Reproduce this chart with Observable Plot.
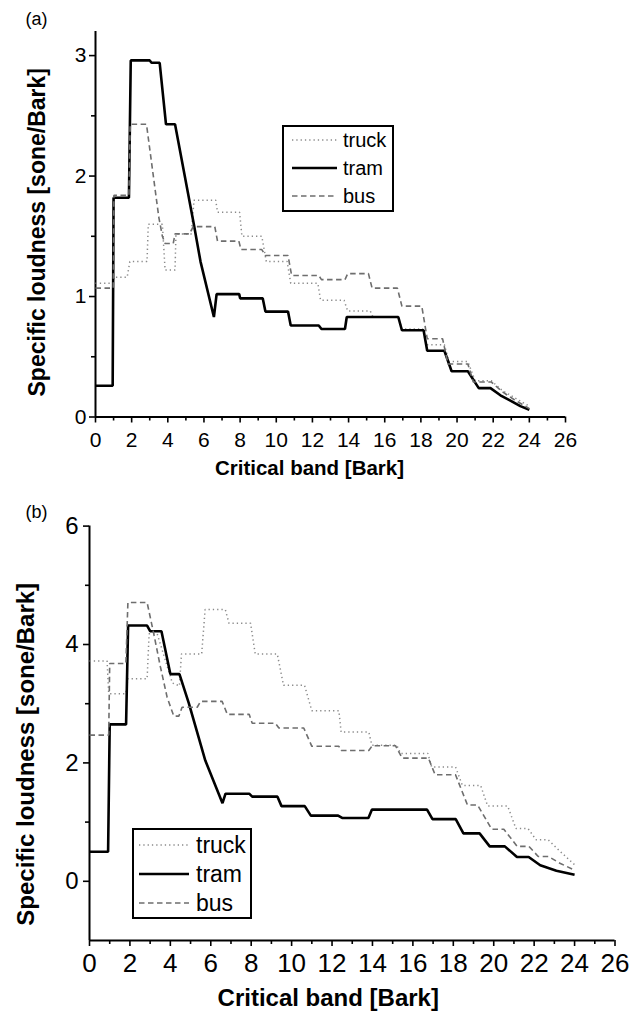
<!DOCTYPE html>
<html>
<head>
<meta charset="utf-8">
<script src="https://cdn.jsdelivr.net/npm/d3@7"></script>
<script src="https://cdn.jsdelivr.net/npm/@observablehq/plot@0.6"></script>
<style>
  html, body { margin: 0; padding: 0; background: #fff; }
  #root { position: relative; width: 629px; height: 1011px; overflow: hidden; font-family: "Liberation Sans", Arial, Helvetica, sans-serif; }
  .panel { position: absolute; left: 0; }
  .legend { position: absolute; border: 2px solid #000; background: #fff; box-sizing: border-box; }
</style>
</head>
<body>
<div id="root"></div>
<script>
// ---------- DATA ----------
const seriesNames = ["truck", "tram", "bus"];

// Panel (a)
const aTruckX = [0,0.98,1.02,1.75,1.9,2.85,2.92,3.7,3.85,4.4,4.45,5.3,5.45,6.65,6.75,7.97,8.1,9.2,9.45,10.6,10.8,12.3,12.45,13.75,13.95,15.2,15.35,16.75,16.95,18.1,18.3,19.3,19.55,20.6,21.0,21.9,22.5,23.3,24.0];
const aTruckY = [1.11,1.11,1.16,1.16,1.29,1.29,1.6,1.6,1.22,1.22,1.52,1.52,1.80,1.80,1.70,1.70,1.50,1.50,1.29,1.29,1.11,1.11,0.97,0.97,0.88,0.88,0.83,0.83,0.73,0.73,0.60,0.60,0.46,0.46,0.30,0.30,0.22,0.15,0.09];
const aTramX = [0,0.95,1.0,1.85,1.95,3.0,3.1,3.55,3.9,4.4,5.44,5.81,6.55,6.7,7.95,8.0,9.25,9.4,10.65,10.8,12.35,12.5,13.8,13.9,16.75,16.95,18.15,18.35,19.3,19.7,20.6,21.2,21.85,22.4,22.9,23.5,24.0];
const aTramY = [0.26,0.26,1.82,1.82,2.96,2.96,2.94,2.94,2.43,2.43,1.60,1.29,0.83,1.02,1.02,0.985,0.985,0.875,0.875,0.76,0.76,0.73,0.73,0.83,0.83,0.72,0.72,0.55,0.55,0.38,0.38,0.24,0.24,0.18,0.14,0.09,0.06];
const aBusX = [0,0.98,1.02,1.85,1.92,2.82,3.5,3.7,3.85,4.3,4.4,5.2,5.4,6.6,6.75,7.93,8.05,9.2,9.4,10.65,10.85,12.35,12.5,13.8,13.95,15.1,15.3,16.7,16.95,18.05,18.35,19.2,19.5,20.6,20.9,21.9,22.5,23.2,24.0];
const aBusY = [1.07,1.07,1.84,1.84,2.43,2.43,1.66,1.5,1.44,1.44,1.52,1.52,1.58,1.58,1.46,1.46,1.39,1.39,1.34,1.34,1.175,1.175,1.14,1.14,1.19,1.19,1.07,1.07,0.92,0.92,0.65,0.65,0.44,0.44,0.29,0.29,0.21,0.14,0.07];

// Panel (b)
const bTruckX = [0,0.87,0.95,1.8,1.9,2.85,2.95,3.35,4.1,4.45,4.55,5.55,5.72,6.72,6.9,7.97,8.2,9.29,9.6,10.64,11.0,12.34,12.45,13.82,13.97,15.2,15.39,16.74,16.93,18.11,18.45,19.35,19.7,20.69,21.1,21.7,22.1,22.7,23.3,24.0];
const bTruckY = [3.72,3.72,3.17,3.17,3.42,3.42,4.18,4.18,3.35,3.3,3.84,3.84,4.59,4.59,4.36,4.36,3.84,3.84,3.31,3.31,2.88,2.88,2.52,2.52,2.3,2.3,2.16,2.16,1.93,1.93,1.62,1.62,1.27,1.27,0.89,0.89,0.70,0.70,0.50,0.28];
const bTramX = [0,0.92,1.0,1.81,1.91,2.85,3.0,3.56,4.0,4.45,4.92,5.4,5.73,6.58,6.73,7.9,8.05,9.3,9.5,10.65,10.95,12.3,12.5,13.8,13.97,16.7,16.97,18.12,18.5,19.3,19.8,20.55,21.15,21.73,22.3,23.1,24.0];
const bTramY = [0.5,0.5,2.65,2.65,4.32,4.32,4.225,4.225,3.5,3.5,3.0,2.43,2.04,1.32,1.48,1.48,1.43,1.43,1.27,1.27,1.11,1.11,1.07,1.07,1.21,1.21,1.05,1.05,0.81,0.81,0.59,0.59,0.41,0.41,0.27,0.18,0.11];
const bBusX = [0,0.95,1.0,1.8,1.9,2.85,3.18,3.51,3.84,4.17,4.42,4.58,5.33,5.5,6.56,6.82,7.9,8.05,9.2,9.37,10.6,11.0,12.34,12.45,13.82,13.99,15.14,15.47,16.77,17.1,18.11,18.7,19.2,19.9,20.5,21.16,21.74,22.2,22.7,23.3,24.0];
const bBusY = [2.47,2.47,3.68,3.68,4.71,4.71,4.18,3.62,3.11,2.79,2.79,2.94,2.94,3.04,3.04,2.82,2.82,2.67,2.67,2.59,2.59,2.28,2.28,2.21,2.21,2.29,2.29,2.08,2.08,1.80,1.80,1.29,1.29,0.88,0.88,0.59,0.59,0.42,0.42,0.30,0.19];

// Tick values
const xMajorTicks = [0,2,4,6,8,10,12,14,16,18,20,22,24,26];
const xMinorTicks = [1,3,5,7,9,11,13,15,17,19,21,23,25];
const aYMajorTicks = [0,1,2,3];
const aYMinorTicks = [0.5,1.5,2.5];
const bYMajorTicks = [0,2,4,6];
const bYMinorTicks = [1,3,5];

// Text
const xTitle = "Critical band [Bark]";
const yTitle = "Specific loudness [sone/Bark]";
const panelLabels = ["(a)", "(b)"];

// ---------- STYLES ----------
const FONT = "'Liberation Sans', Arial, Helvetica, sans-serif";
const styles = {
  truck: {stroke: "#8a8a8a", strokeWidth: 1.5, strokeDasharray: "1.3,3"},
  tram:  {stroke: "#000", strokeWidth: 2.6, strokeDasharray: null},
  bus:   {stroke: "#6e6e6e", strokeWidth: 1.6, strokeDasharray: "5.5,3.5"}
};

function toRows(name, xs, ys) { return xs.map((x, i) => ({series: name, x, y: ys[i]})); }

function seriesMarks(rows) {
  return seriesNames.map(name => Plot.line(rows[name], {
    x: "x", y: "y",
    stroke: styles[name].stroke,
    strokeWidth: styles[name].strokeWidth,
    strokeDasharray: styles[name].strokeDasharray || undefined,
    strokeLinejoin: "miter", strokeLinecap: "butt"
  }));
}

const intFmt = d => String(d);
const noFmt = () => "";

function makePanel(cfg) {
  return Plot.plot({
    width: 629, height: cfg.height,
    marginLeft: cfg.ml, marginRight: cfg.mr, marginTop: cfg.mt, marginBottom: cfg.mb,
    x: {domain: [0, 26]},
    y: {domain: cfg.yDomain},
    style: {fontFamily: FONT, background: "white", color: "#000", overflow: "visible"},
    marks: [
      Plot.axisX({ticks: xMajorTicks, tickSize: 6, tickPadding: cfg.xPad, fontSize: cfg.xFont, tickFormat: intFmt, label: null, strokeWidth: 1.6}),
      Plot.axisX({ticks: xMinorTicks, tickSize: 4, tickFormat: noFmt, label: null, strokeWidth: 1.6}),
      Plot.axisY({ticks: cfg.yMajor, tickSize: 6, tickPadding: cfg.yPad, fontSize: cfg.yFont, tickFormat: intFmt, label: null, strokeWidth: 1.6}),
      Plot.axisY({ticks: cfg.yMinor, tickSize: 4, tickFormat: noFmt, label: null, strokeWidth: 1.6}),
      Plot.ruleX([0], {strokeWidth: 2}),
      Plot.ruleY([cfg.yDomain[0]], {strokeWidth: 2}),
      ...seriesMarks(cfg.rows),
      Plot.text([xTitle], {frameAnchor: "bottom", textAnchor: "middle", lineAnchor: "middle", dx: cfg.xtDx, dy: cfg.xtDy, fontSize: cfg.xtFont, fontWeight: "bold", fill: "#000"}),
      Plot.text([yTitle], {frameAnchor: "left", textAnchor: "middle", lineAnchor: "middle", rotate: -90, dx: cfg.ytDx, dy: cfg.ytDy, fontSize: cfg.ytFont, fontWeight: "bold", fill: "#000"}),
      Plot.text([cfg.label], {frameAnchor: "top-left", textAnchor: "start", lineAnchor: "top", dx: cfg.lDx, dy: cfg.lDy, fontSize: 18, fill: "#000"})
    ]
  });
}

function makeLegend(cfg) {
  const div = document.createElement("div");
  div.className = "legend";
  Object.assign(div.style, {left: cfg.left + "px", top: cfg.top + "px", width: cfg.w + "px", height: cfg.h + "px"});
  const svg = d3.create("svg").attr("width", cfg.w - 4).attr("height", cfg.h - 4)
    .style("position", "absolute").style("left", "0").style("top", "0");
  seriesNames.forEach((name, i) => {
    const y = cfg.rowY[i];
    svg.append("line").attr("x1", cfg.x1).attr("x2", cfg.x2).attr("y1", y).attr("y2", y)
      .attr("stroke", styles[name].stroke).attr("stroke-width", styles[name].strokeWidth)
      .attr("stroke-dasharray", styles[name].strokeDasharray);
    svg.append("text").attr("x", cfg.tx).attr("y", y).attr("dy", "0.35em")
      .attr("font-size", cfg.font).attr("font-family", FONT).attr("fill", "#000").text(name);
  });
  div.appendChild(svg.node());
  return div;
}

const root = document.getElementById("root");

const panelA = makePanel({
  height: 490, ml: 95, mr: 64, mt: 31, mb: 73.5, yDomain: [0, 3.2],
  yMajor: aYMajorTicks, yMinor: aYMinorTicks,
  xFont: 21, xPad: 9, yFont: 21, yPad: 3,
  xtDx: -21, xtDy: 51.5, xtFont: 20.5,
  ytDx: -58, ytDy: 8, ytFont: 23,
  label: panelLabels[0], lDx: -70, lDy: -19,
  rows: {truck: toRows("truck", aTruckX, aTruckY), tram: toRows("tram", aTramX, aTramY), bus: toRows("bus", aBusX, aBusY)}
});
panelA.classList.add("panel"); panelA.style.top = "0px";
root.appendChild(panelA);

const panelB = makePanel({
  height: 521, ml: 89, mr: 14.5, mt: 35.6, mb: 71, yDomain: [-1, 6],
  yMajor: bYMajorTicks, yMinor: bYMinorTicks,
  xFont: 26, xPad: 7, yFont: 24, yPad: 5,
  xtDx: -24, xtDy: 58, xtFont: 24,
  ytDx: -63, ytDy: 21, ytFont: 24,
  label: panelLabels[1], lDx: -64, lDy: -21,
  rows: {truck: toRows("truck", bTruckX, bTruckY), tram: toRows("tram", bTramX, bTramY), bus: toRows("bus", bBusX, bBusY)}
});
panelB.classList.add("panel"); panelB.style.top = "490px";
root.appendChild(panelB);

root.appendChild(makeLegend({left: 282, top: 125, w: 112, h: 87, rowY: [13, 41, 69], x1: 8, x2: 53, tx: 59, font: 20}));
root.appendChild(makeLegend({left: 132, top: 828, w: 120, h: 91, rowY: [15, 44, 73], x1: 5, x2: 55, tx: 62, font: 23}));
</script>
</body>
</html>
